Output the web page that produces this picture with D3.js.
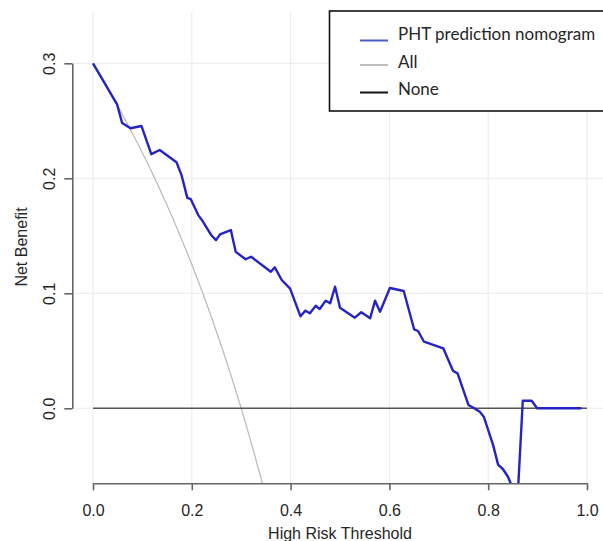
<!DOCTYPE html>
<html>
<head>
<meta charset="utf-8">
<script src="https://cdn.jsdelivr.net/npm/d3@7"></script>
<style>
  body { margin: 0; background: #fff; }
  svg { display: block; }
</style>
</head>
<body>
<svg id="chart" width="603" height="541"></svg>
<script>
// model curve
var thresholds = [0, 0.049, 0.059, 0.076, 0.098, 0.118, 0.135, 0.169, 0.179, 0.191,
    0.198, 0.213, 0.220, 0.239, 0.249, 0.257, 0.279, 0.289, 0.309, 0.320,
    0.360, 0.368, 0.382, 0.399, 0.420, 0.430, 0.439, 0.451, 0.459, 0.471,
    0.480, 0.490, 0.500, 0.530, 0.543, 0.561, 0.571, 0.581, 0.601, 0.629,
    0.650, 0.658, 0.670, 0.709, 0.729, 0.738, 0.760, 0.770, 0.783, 0.791,
    0.810, 0.820, 0.830, 0.840, 0.850, 0.860, 0.870, 0.888, 0.899, 0.989];
var netBenefit = [0.300, 0.264, 0.248, 0.2435, 0.2455, 0.221, 0.2246, 0.214, 0.203, 0.183,
    0.1818, 0.168, 0.164, 0.1507, 0.1463, 0.1513, 0.155, 0.136, 0.1296, 0.1318,
    0.1188, 0.1226, 0.1116, 0.104, 0.080, 0.0849, 0.0826, 0.0892, 0.0863, 0.0936,
    0.0913, 0.1057, 0.0875, 0.0788, 0.0835, 0.0783, 0.0936, 0.084, 0.1046, 0.102,
    0.0687, 0.0672, 0.0579, 0.0522, 0.0324, 0.0304, 0.0029, 0.0005, -0.003, -0.0073,
    -0.032, -0.049, -0.053, -0.0595, -0.070, -0.074, 0.0066, 0.0066, 0, 0];

// "treat all" curve
var allThresholds = [0, 0.02, 0.04, 0.06, 0.08, 0.10, 0.12, 0.14, 0.16, 0.18,
    0.20, 0.22, 0.24, 0.26, 0.28, 0.30, 0.32, 0.34, 0.36];
var allBenefit = [0.300, 0.286, 0.271, 0.255, 0.239, 0.222, 0.2045, 0.186, 0.1667, 0.1463,
    0.125, 0.1026, 0.079, 0.054, 0.0278, 0, -0.0294, -0.0606, -0.094];

// "treat none"
var noneThresholds = [0, 1];
var noneBenefit = [0, 0];

var xTicks = [0, 0.2, 0.4, 0.6, 0.8, 1.0];
var yTicks = [0, 0.1, 0.2, 0.3];
var legendLabels = ["PHT prediction nomogram", "All", "None"];

var svg = d3.select("#chart");

var x = d3.scaleLinear().domain([0, 1]).range([93, 587]);
var y = d3.scaleLinear().domain([0, 0.3]).range([408.3, 63.3]);

var plotTop = 12, plotBottom = 483.3, plotLeft = 72.3, plotRight = 610;

svg.append("defs").append("clipPath")
    .attr("id", "plotclip")
    .append("rect")
    .attr("x", plotLeft)
    .attr("y", plotTop)
    .attr("width", plotRight - plotLeft)
    .attr("height", plotBottom - plotTop);

// grid
var grid = svg.append("g");
grid.selectAll(".vg").data(xTicks).enter()
    .append("line")
    .attr("x1", function (d) { return x(d); })
    .attr("x2", function (d) { return x(d); })
    .attr("y1", plotTop)
    .attr("y2", plotBottom)
    .style("stroke", "#ebebeb")
    .style("stroke-width", 1);
grid.selectAll(".hg").data(yTicks).enter()
    .append("line")
    .attr("x1", plotLeft)
    .attr("x2", plotRight)
    .attr("y1", function (d) { return y(d); })
    .attr("y2", function (d) { return y(d); })
    .style("stroke", "#ebebeb")
    .style("stroke-width", 1);

var line = d3.line()
    .x(function (d) { return x(d[0]); })
    .y(function (d) { return y(d[1]); });

var curves = svg.append("g").attr("clip-path", "url(#plotclip)");

curves.append("path")
    .datum(d3.zip(allThresholds, allBenefit))
    .attr("d", line.curve(d3.curveMonotoneX))
    .style("fill", "none")
    .style("stroke", "#bdbdbd")
    .style("stroke-width", 1.3);

curves.append("path")
    .datum(d3.zip(noneThresholds, noneBenefit))
    .attr("d", line.curve(d3.curveLinear))
    .style("fill", "none")
    .style("stroke", "#555")
    .style("stroke-width", 1.5);

curves.append("path")
    .datum(d3.zip(thresholds, netBenefit))
    .attr("d", line.curve(d3.curveLinear))
    .style("fill", "none")
    .style("stroke", "#2424c4")
    .style("stroke-width", 2.4)
    .style("stroke-linejoin", "round");

// axes
var xAxis = svg.append("g")
    .attr("transform", "translate(0," + plotBottom + ")")
    .call(d3.axisBottom(x).tickValues(xTicks).tickFormat(d3.format(".1f")).tickSize(7).tickSizeOuter(0));
xAxis.selectAll("text")
    .attr("y", 21)
    .style("font-family", "Liberation Sans, Arial, sans-serif")
    .style("font-size", "16px")
    .style("fill", "#262626");

var yAxis = svg.append("g")
    .attr("transform", "translate(" + plotLeft + ",0)")
    .call(d3.axisLeft(y).tickValues(yTicks).tickFormat(d3.format(".1f")).tickSize(8).tickSizeOuter(0));
yAxis.selectAll("text")
    .attr("transform", "rotate(-90)")
    .attr("x", 0)
    .attr("y", -17)
    .attr("dy", 0)
    .attr("text-anchor", "middle")
    .style("font-family", "Liberation Sans, Arial, sans-serif")
    .style("font-size", "16px")
    .style("fill", "#262626");

svg.selectAll(".domain, .tick line")
    .style("stroke", "#666")
    .style("stroke-width", 1.6);

svg.append("text")
    .attr("x", 340)
    .attr("y", 539)
    .attr("text-anchor", "middle")
    .style("font-family", "Liberation Sans, Arial, sans-serif")
    .style("font-size", "16px")
    .style("fill", "#262626")
    .text("High Risk Threshold");

svg.append("text")
    .attr("transform", "translate(27,247) rotate(-90)")
    .attr("text-anchor", "middle")
    .style("font-family", "Liberation Sans, Arial, sans-serif")
    .style("font-size", "16px")
    .style("fill", "#262626")
    .text("Net Benefit");

// legend
var legendColors = ["#4a5ac8", "#bdbdbd", "#111"];
var legendLineY = [40.5, 65, 92.5];
var legendTextY = [40, 68, 95];

var legend = svg.append("g");
legend.append("rect")
    .attr("x", 329.5)
    .attr("y", 11)
    .attr("width", 300)
    .attr("height", 100)
    .style("fill", "#fff")
    .style("stroke", "#111")
    .style("stroke-width", 1.6);

legend.selectAll(".lgline").data(legendLabels).enter()
    .append("line")
    .attr("x1", 360)
    .attr("x2", 388)
    .attr("y1", function (d, i) { return legendLineY[i]; })
    .attr("y2", function (d, i) { return legendLineY[i]; })
    .style("stroke", function (d, i) { return legendColors[i]; })
    .style("stroke-width", 2);

legend.selectAll(".lgtext").data(legendLabels).enter()
    .append("text")
    .attr("x", 398)
    .attr("y", function (d, i) { return legendTextY[i]; })
    .style("font-family", "Lato, sans-serif")
    .style("font-size", "17px")
    .style("fill", "#262626")
    .text(function (d) { return d; });
</script>
</body>
</html>
